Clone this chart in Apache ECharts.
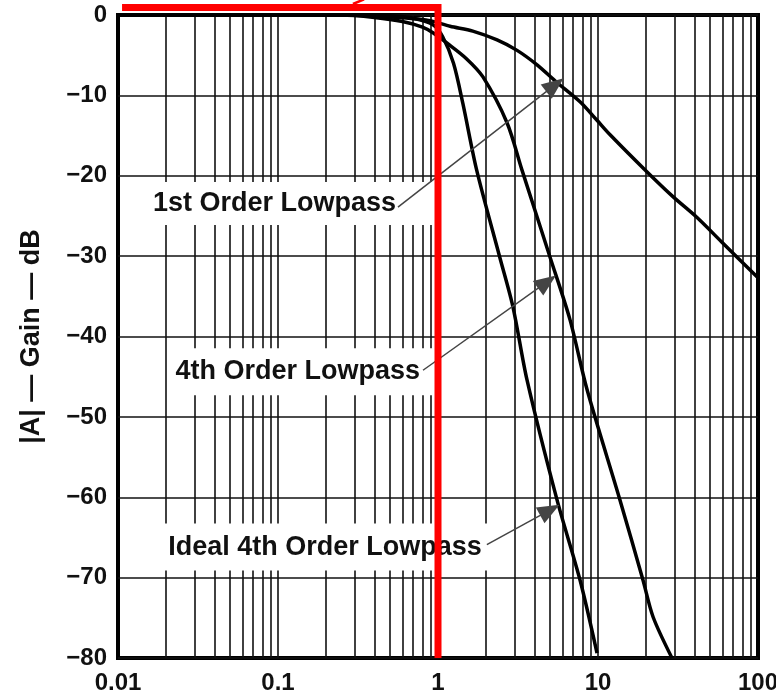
<!DOCTYPE html>
<html>
<head>
<meta charset="utf-8">
<script src="https://cdn.jsdelivr.net/npm/echarts@6/dist/echarts.min.js"></script>
<style>
  html, body { margin: 0; padding: 0; background: #fff; }
  #chart { width: 776px; height: 697px; }
</style>
</head>
<body>
<div id="chart"></div>
<script>
// 频率（归一化）与增益 dB，读自原图
const xTicks = [0.01, 0.1, 1, 10, 100];
const yTicks = [0, -10, -20, -30, -40, -50, -60, -70, -80];

const firstFreq = [0.01, 0.1, 0.25, 0.4, 0.6, 0.89, 1.19, 1.65, 2.34, 3.12, 4.16, 5.54, 7.72, 9.86, 11.9, 20.2, 29.4, 41.6, 60.4, 100];
const firstGain = [0, 0, 0, -0.15, -0.35, -0.7, -1.4, -2.0, -3.1, -4.4, -6.2, -8.4, -10.8, -13.1, -14.9, -19.5, -22.6, -25.2, -28.4, -32.7];

const fourthFreq = [0.01, 0.1, 0.25, 0.4, 0.6, 0.8, 0.93, 1.14, 1.5, 1.91, 2.7, 3.35, 5.01, 6.68, 8.54, 13.7, 19.1, 22.1, 29];
const fourthGain = [0, 0, 0, -0.3, -0.8, -1.5, -2.2, -3.5, -5.4, -7.7, -13.4, -19.3, -30.1, -37.9, -46.6, -60.3, -70.3, -74.9, -80];

const idealFreq = [0.01, 0.1, 0.3, 0.5, 0.7, 0.93, 1.07, 1.25, 1.43, 1.745, 2.43, 2.94, 3.6, 5.54, 7.72, 9.86];
const idealGain = [0, 0, 0, -0.1, -0.4, -1.2, -2.7, -6.0, -11, -19.3, -30.1, -36.3, -45.4, -60.3, -70.3, -79.4];

// 红色理想响应
const redFreq = [0.0106, 1, 1];
const redGain = [0.93, 0.93, -80];

// 标注：文字、文字框右端坐标、箭头起点、箭头终点
const noteText = ["1st Order Lowpass", "4th Order Lowpass", "Ideal 4th Order Lowpass"];
const noteAnchor = [[0.944, -23.45], [0.944, -44.4], [2.11, -66.2]];
const notePad = [[8, 38, 8, 6], [10, 14, 10, 6], [10, 8, 10, 6]];
const arrowFrom = [[0.562, -23.9], [0.806, -44.2], [2.02, -65.9]];
const arrowTo = [[5.38, -8.7], [4.8, -33.2], [5.0, -61.6]];

function pairs(xs, ys) {
  return xs.map(function(x, i) { return [x, ys[i]]; });
}

// 对数坐标的细网格线 1..9 × 10^n
const gridFreqs = [];
[0.01, 0.1, 1, 10].forEach(function(d) {
  for (let k = 1; k <= 9; k++) {
    if (d * k > 0.01) gridFreqs.push(+(d * k).toPrecision(3));
  }
});

const font = "'Liberation Sans', Arial, sans-serif";
const myChart = echarts.init(document.getElementById("chart"));

myChart.setOption({
  animation: false,
  grid: {
    left: 118,
    right: 18,
    top: 15,
    bottom: 39,
    containLabel: false,
    outerBoundsMode: "none",
    show: true,
    borderColor: "#000",
    borderWidth: 4,
    backgroundColor: "transparent"
  },
  xAxis: {
    type: "log",
    logBase: 10,
    min: 0.01,
    max: 100,
    axisLine: { show: false },
    axisTick: { show: false },
    splitLine: { show: false },
    axisLabel: {
      margin: 13,
      color: "#111",
      fontFamily: font,
      fontWeight: "bold",
      fontSize: 24,
      formatter: function(v) {
        return xTicks.indexOf(v) >= 0 ? String(v) : "";
      }
    }
  },
  yAxis: {
    type: "value",
    min: -80,
    max: 0,
    interval: 10,
    name: "|A| \u2014 Gain \u2014 dB",
    nameLocation: "middle",
    nameGap: 73,
    nameTextStyle: {
      color: "#111",
      fontFamily: font,
      fontWeight: "bold",
      fontSize: 27
    },
    axisLine: { show: false },
    axisTick: { show: false },
    splitLine: { show: true, lineStyle: { color: "#111", width: 1.6 } },
    axisLabel: {
      margin: 11,
      color: "#111",
      fontFamily: font,
      fontWeight: "bold",
      fontSize: 24,
      formatter: function(v) {
        return yTicks.indexOf(v) >= 0 ? (v === 0 ? "0" : "\u2212" + Math.abs(v)) : "";
      }
    }
  },
  series: [
    {
      type: "line",
      z: 1,
      data: [],
      markLine: {
        z: 1,
        silent: true,
        symbol: "none",
        label: { show: false },
        lineStyle: { color: "#111", width: 1.6, type: "solid" },
        data: gridFreqs.map(function(f) { return { xAxis: f }; })
      }
    },
    {
      name: "1st Order Lowpass",
      type: "line",
      z: 3,
      showSymbol: false,
      smooth: 0.3,
      lineStyle: { color: "#000", width: 3.5 },
      data: pairs(firstFreq, firstGain)
    },
    {
      name: "4th Order Lowpass",
      type: "line",
      z: 3,
      showSymbol: false,
      smooth: 0.3,
      lineStyle: { color: "#000", width: 3.5 },
      data: pairs(fourthFreq, fourthGain)
    },
    {
      name: "Ideal 4th Order Lowpass",
      type: "line",
      z: 3,
      showSymbol: false,
      smooth: 0.3,
      lineStyle: { color: "#000", width: 3.5 },
      data: pairs(idealFreq, idealGain)
    },
    {
      // 曲线说明文字（白底框）
      type: "custom",
      z: 4,
      silent: true,
      clip: false,
      data: noteAnchor.map(function(p, i) { return [p[0], p[1], i]; }),
      renderItem: function(params, api) {
        const pt = api.coord([api.value(0), api.value(1)]);
        const i = api.value(2);
        return {
          type: "text",
          x: pt[0],
          y: pt[1],
          z2: 10,
          style: {
            text: noteText[i],
            fill: "#111",
            font: "bold 27px " + font,
            align: "right",
            verticalAlign: "middle",
            backgroundColor: "#fff",
            padding: notePad[i]
          }
        };
      }
    },
    {
      type: "line",
      z: 6,
      data: [],
      markLine: {
        z: 6,
        silent: true,
        symbol: ["none", "triangle"],
        symbolSize: [18, 22],
        label: { show: false },
        lineStyle: { color: "#444", width: 1.5, type: "solid" },
        itemStyle: { color: "#000" },
        data: arrowFrom.map(function(p, i) {
          return [{ coord: p }, { coord: arrowTo[i] }];
        })
      }
    },
    {
      type: "line",
      z: 7,
      clip: false,
      showSymbol: false,
      lineStyle: { color: "#ff0000", width: 7, cap: "butt", join: "miter" },
      data: pairs(redFreq, redGain)
    },
    {
      type: "line",
      z: 7,
      clip: false,
      showSymbol: false,
      lineStyle: { color: "#ff0000", width: 2.5 },
      data: [[0.294, 1.37], [0.345, 1.95]]
    }
  ]
});
</script>
</body>
</html>
